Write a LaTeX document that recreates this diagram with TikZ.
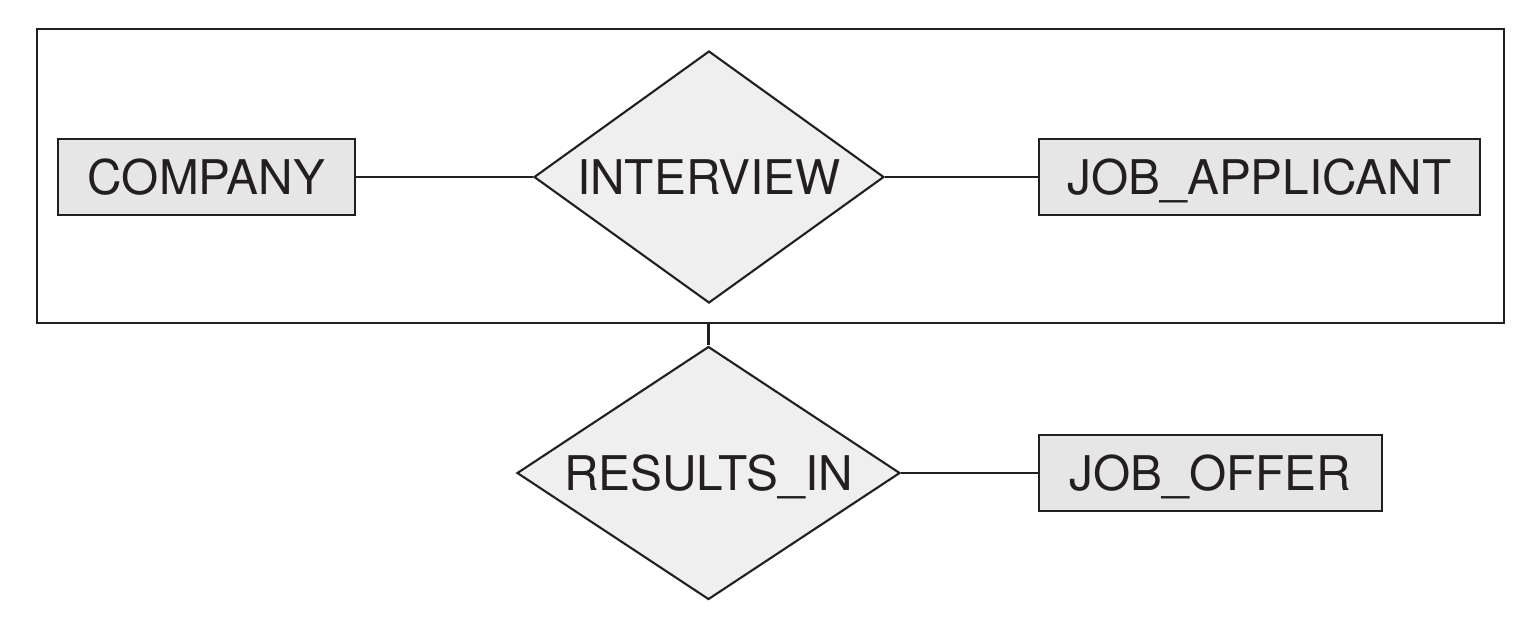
\documentclass[tikz,border=0pt]{standalone}
\usepackage{fontspec}
\setmainfont{TeX Gyre Heros}
\usepackage{tikz}
\usetikzlibrary{shapes.geometric,positioning}
\usepackage{xcolor}
\definecolor{erline}{RGB}{35,31,32}
\definecolor{erbox}{RGB}{230,230,230}
\definecolor{erdiam}{RGB}{239,239,239}
\tikzstyle{conn} = [draw=erline, line width=0.6pt]
\tikzstyle{entity} = [rectangle, draw=erline, fill=erbox, line width=0.6pt, minimum height=0.76cm, inner sep=0pt, text height=0.34cm, text depth=0pt, font=\fontsize{13.6}{16}\selectfont, text=erline]
\tikzstyle{relation} = [diamond, draw=erline, fill=erdiam, line width=0.6pt, inner sep=0pt, text height=0.34cm, text depth=0pt, font=\fontsize{13.6}{16}\selectfont, text=erline]

\begin{document}
\begin{tikzpicture}
\useasboundingbox (0,0) rectangle (15.29,-6.25);
% Aggregation frame
\coordinate (aggNW) at (0.37,-0.29);
\coordinate (aggSE) at (15.04,-3.23);
\draw[conn] (aggNW) rectangle (aggSE);

% Entities and relationships
\node[entity, minimum width=2.97cm] (company) at (2.065,-1.77) {COMPANY};
\node[relation, aspect=1.39, minimum width=3.50cm, minimum height=2.52cm] (interview) at (7.09,-1.77) {INTERVIEW};
\node[entity, minimum width=4.41cm] (applicant) at (12.595,-1.77) {JOB\_APPLICANT};
\node[relation, aspect=1.51, minimum width=3.83cm, minimum height=2.53cm] (results) at (7.085,-4.73) {RESULTS\_IN};
\node[entity, minimum width=3.43cm] (offer) at (12.105,-4.73) {JOB\_OFFER};

% Lines
\draw[conn] (company.east) -- (interview.west);
\draw[conn] (interview.east) -- (applicant.west);
\draw[conn] (results.north |- aggSE) -- (results.north);
\draw[conn] (results.east) -- (offer.west);
\end{tikzpicture}
\end{document}
